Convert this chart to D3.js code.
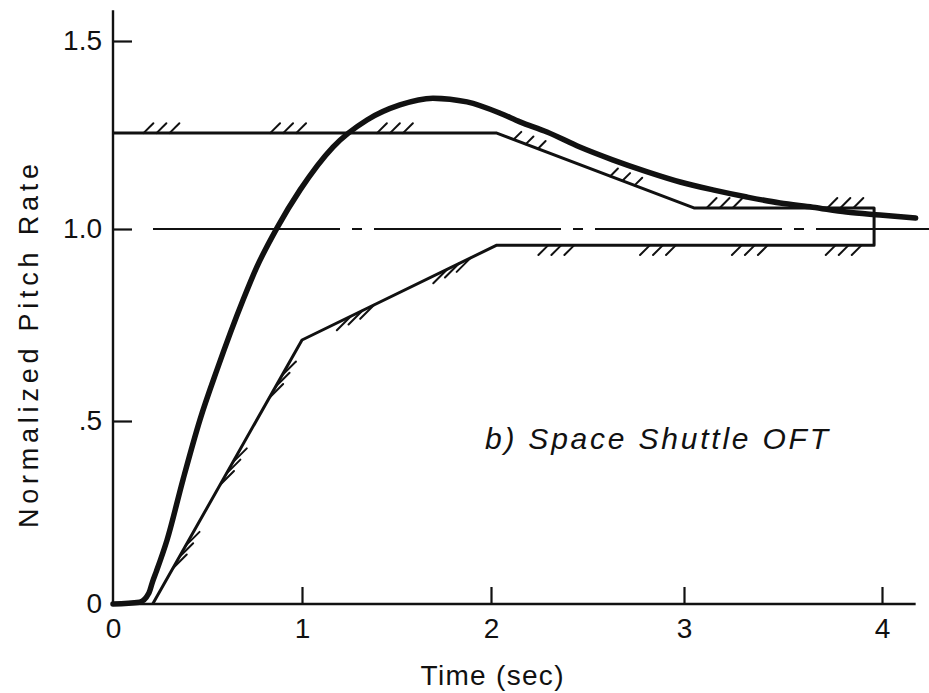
<!DOCTYPE html>
<html>
<head>
<meta charset="utf-8">
<script src="https://cdn.jsdelivr.net/npm/d3@7"></script>
<style>
  html, body { margin: 0; padding: 0; background: #fff; }
  svg { display: block; }
  text { font-family: "Liberation Sans", Arial, sans-serif; fill: #111; }
</style>
</head>
<body>
<svg id="chart" width="929" height="693"></svg>
<script>
// Pitch-rate step response with its acceptance envelope
const xTicks = [0, 1, 2, 3, 4];
const xTickLabels = ["0", "1", "2", "3", "4"];
const yTicks = [0, 0.5, 1, 1.5];
const yTickLabels = ["0", ".5", "1.0", "1.5"];

// response curve (time in sec, normalized pitch rate)
const responseT = [0, 0.14, 0.19, 0.21, 0.23, 0.286, 0.37, 0.46, 0.55, 0.688, 0.76, 0.868, 0.99,
  1.164, 1.344, 1.518, 1.693, 1.873, 2.047, 2.15, 2.29, 2.46, 2.63, 2.81, 2.98,
  3.146, 3.318, 3.485, 3.65, 3.82, 3.99, 4.17];
const responseY = [0, 0.005, 0.03, 0.062, 0.09, 0.175, 0.339, 0.503, 0.633, 0.815, 0.9, 1.003, 1.104,
  1.218, 1.29, 1.33, 1.348, 1.338, 1.308, 1.285, 1.258, 1.218, 1.184, 1.152, 1.125,
  1.104, 1.085, 1.069, 1.058, 1.045, 1.037, 1.029];

// envelope boundaries
const upperT = [0, 2.03, 3.05, 3.96];
const upperY = [1.255, 1.255, 1.056, 1.056];
const lowerT = [0.21, 1.0, 2.03, 3.96];
const lowerY = [0, 0.711, 0.958, 0.958];

// centres of the hatch groups along each boundary
const upperHatchT = [0.23, 0.90, 1.465, 2.18, 2.68, 3.18, 3.79];
const lowerHatchT = [0.35, 0.60, 0.86, 1.32, 1.83, 2.36, 2.88, 3.35, 3.83];

const referenceLevel = 1.0;

const svg = d3.select("#chart");

// hand-ruled axes: tick spacing is not perfectly even
const x = d3.scaleLinear().domain(xTicks).range([113, 302, 491, 684, 882]);
const y = d3.scaleLinear().domain(yTicks).range([604, 421, 229, 41]);

const ink = "#111";

// axes lines
svg.append("line")
  .attr("x1", x(0)).attr("x2", x(4.17))
  .attr("y1", y(0)).attr("y2", y(0))
  .attr("stroke", ink).attr("stroke-width", 2.4);
svg.append("line")
  .attr("x1", x(0)).attr("x2", x(0))
  .attr("y1", y(0)).attr("y2", y(1.582))
  .attr("stroke", ink).attr("stroke-width", 2.4);

const xAxis = d3.axisBottom(x)
  .tickValues(xTicks)
  .tickFormat((d, i) => xTickLabels[i])
  .tickSizeInner(-17).tickSizeOuter(0).tickPadding(14);
const gx = svg.append("g").attr("transform", `translate(0,${y(0)})`).call(xAxis);
gx.select(".domain").remove();
gx.selectAll(".tick line").attr("stroke", ink).attr("stroke-width", 2.2)
  .filter(d => d === 0).remove();
gx.selectAll(".tick text").attr("font-size", 28).attr("fill", ink)
  .attr("font-family", "Liberation Sans, Arial, sans-serif");

const yAxis = d3.axisLeft(y)
  .tickValues(yTicks)
  .tickFormat((d, i) => yTickLabels[i])
  .tickSizeInner(-19).tickSizeOuter(0).tickPadding(11);
const gy = svg.append("g").attr("transform", `translate(${x(0)},0)`).call(yAxis);
gy.select(".domain").remove();
gy.selectAll(".tick line").attr("stroke", ink).attr("stroke-width", 2.2)
  .filter(d => d === 0).remove();
gy.selectAll(".tick text").attr("font-size", 28).attr("fill", ink)
  .attr("font-family", "Liberation Sans, Arial, sans-serif");

// dash-dot reference line at 1.0
svg.append("line")
  .attr("x1", x(0) + 40).attr("x2", 929)
  .attr("y1", y(referenceLevel)).attr("y2", y(referenceLevel))
  .attr("stroke", ink).attr("stroke-width", 2)
  .attr("stroke-dasharray", "187,12,10,12");

// envelope: lower edge, closing bar at the end, then upper edge back
const envelope = lowerT.map((t, i) => [t, lowerY[i]])
  .concat(upperT.map((t, i) => [t, upperY[i]]).reverse());
const line = d3.line().x(d => x(d[0])).y(d => y(d[1]));
svg.append("path")
  .attr("d", line(envelope))
  .attr("fill", "none").attr("stroke", ink)
  .attr("stroke-width", 3).attr("stroke-linejoin", "round");

// hatch marks on the outside of the envelope
function pointAt(ts, ys, t) {
  let i = 0;
  while (i < ts.length - 2 && t > ts[i + 1]) i++;
  const px0 = x(ts[i]), py0 = y(ys[i]), px1 = x(ts[i + 1]), py1 = y(ys[i + 1]);
  const f = (t - ts[i]) / (ts[i + 1] - ts[i]);
  const len = Math.hypot(px1 - px0, py1 - py0);
  return { px: px0 + f * (px1 - px0), py: py0 + f * (py1 - py0),
           dx: (px1 - px0) / len, dy: (py1 - py0) / len };
}
function hatchSegments(ts, ys, centres, outsideUp) {
  const segs = [];
  const spacing = 13;
  centres.forEach(c => {
    const p = pointAt(ts, ys, c);
    // normal pointing to the outside of the envelope
    const nx = outsideUp ? p.dy : -p.dy;
    const ny = outsideUp ? -p.dx : p.dx;
    // strokes at 45 degrees, longer where they run close to the edge
    const sinA = Math.abs(p.dx * (-1) - p.dy * 1) / Math.SQRT2;
    const h = Math.min(14, 7 / Math.max(sinA, 0.05));
    let vx = h, vy = -h;
    if (vx * nx + vy * ny < 0) { vx = -h; vy = h; }
    [-1, 0, 1].forEach(k => {
      const bx = p.px + k * spacing * p.dx;
      const by = p.py + k * spacing * p.dy;
      segs.push([bx, by, bx + vx, by + vy]);
    });
  });
  return segs;
}
const hatches = hatchSegments(upperT, upperY, upperHatchT, true)
  .concat(hatchSegments(lowerT, lowerY, lowerHatchT, false));
svg.append("g").selectAll("line").data(hatches).join("line")
  .attr("x1", d => d[0]).attr("y1", d => d[1])
  .attr("x2", d => d[2]).attr("y2", d => d[3])
  .attr("stroke", ink).attr("stroke-width", 2).attr("stroke-linecap", "round");

// response curve
const respLine = d3.line().curve(d3.curveMonotoneX)
  .x(d => x(d[0])).y(d => y(d[1]));
svg.append("path")
  .attr("d", respLine(responseT.map((t, i) => [t, responseY[i]])))
  .attr("fill", "none").attr("stroke", ink)
  .attr("stroke-width", 5.5).attr("stroke-linecap", "round").attr("stroke-linejoin", "round");

// axis titles
svg.append("text")
  .attr("x", 492).attr("y", 685)
  .attr("text-anchor", "middle").attr("font-size", 28)
  .attr("textLength", 143).attr("lengthAdjust", "spacing")
  .text("Time (sec)");
svg.append("text")
  .attr("transform", "translate(38,346) rotate(-90)")
  .attr("text-anchor", "middle").attr("font-size", 27)
  .attr("textLength", 364).attr("lengthAdjust", "spacing")
  .text("Normalized Pitch Rate");

// case label
svg.append("text")
  .attr("x", 485).attr("y", 449)
  .attr("font-size", 30).attr("font-style", "italic")
  .attr("textLength", 343).attr("lengthAdjust", "spacing")
  .text("b) Space Shuttle OFT");
</script>
</body>
</html>
